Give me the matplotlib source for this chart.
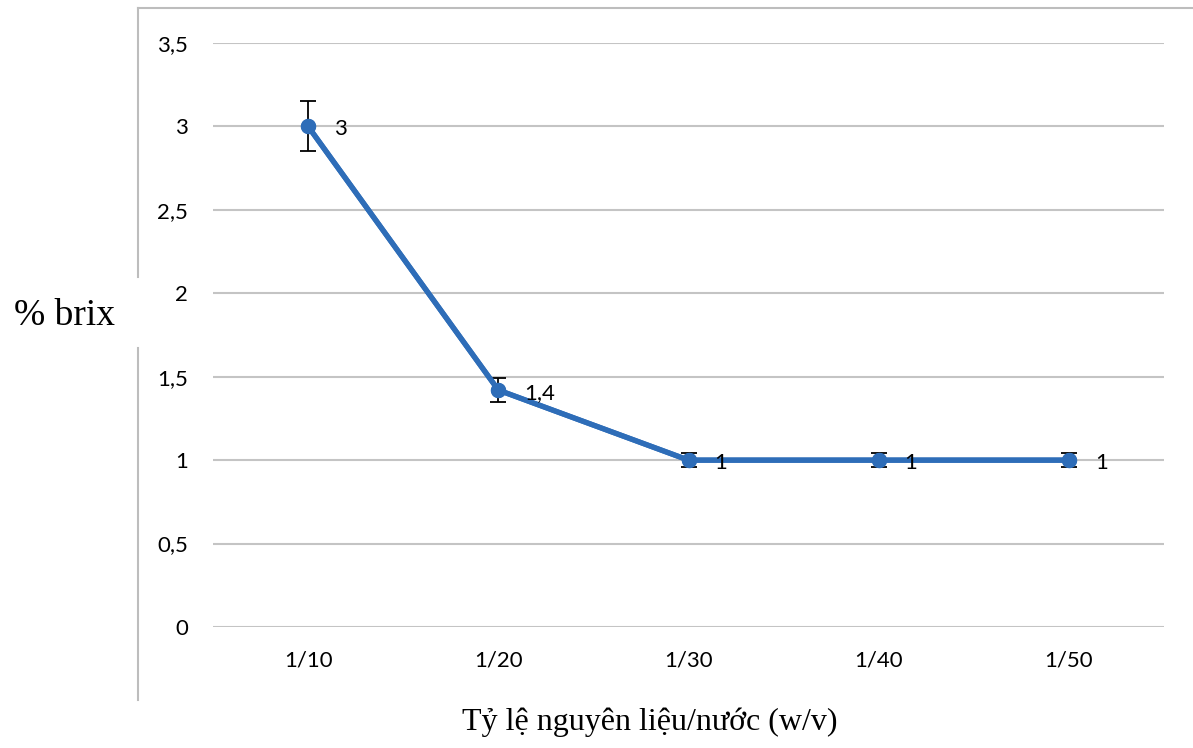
import matplotlib
matplotlib.use("Agg")
import matplotlib.pyplot as plt
from matplotlib.lines import Line2D

categories = ["1/10", "1/20", "1/30", "1/40", "1/50"]
brix = [3.0, 1.42, 1.0, 1.0, 1.0]
brix_err = [0.15, 0.07, 0.04, 0.04, 0.04]
point_labels = ["3", "1,4", "1", "1", "1"]
y_ticks = [0, 0.5, 1, 1.5, 2, 2.5, 3, 3.5]
y_tick_labels = ["0", "0,5", "1", "1,5", "2", "2,5", "3", "3,5"]

W, H = 1193, 748
fig = plt.figure(figsize=(W / 100, H / 100), dpi=100)
ax = fig.add_axes([213 / W, 1 - 627 / H, (1164 - 213) / W, (627 - 43) / H])

x = list(range(len(categories)))
blue = "#2E6DB8"
ax.errorbar(x, brix, yerr=brix_err, color=blue, lw=3.8, marker="o", ms=10,
            ecolor="black", elinewidth=1.3, capsize=6, capthick=1.3, zorder=3)
# redraw line on top of error bars
ax.plot(x, brix, color=blue, lw=3.8, marker="o", ms=10, zorder=4)

for xi, yi, lab in zip(x, brix, point_labels):
    ax.annotate(lab, (xi, yi), xytext=(26, -3), textcoords="offset pixels",
                ha="left", va="center", fontsize=16, family="Lato", color="black",
                zorder=5)

ax.set_xlim(-0.5, len(categories) - 0.5)
ax.set_ylim(0, 3.5)
ax.set_yticks(y_ticks)
ax.set_yticklabels(y_tick_labels, fontsize=16, family="Lato")
ax.set_xticks(x)
ax.set_xticklabels(categories, fontsize=16, family="Lato")
ax.tick_params(axis="y", length=0, pad=18)
ax.tick_params(axis="x", length=0, pad=17)
ax.grid(axis="y", color="#C4C4C4", lw=1.5)
ax.set_axisbelow(True)
for s in ax.spines.values():
    s.set_visible(False)

# outer chart frame (cropped)
fc = "#BDBDBD"
lx = 137.5 / W
fig.add_artist(Line2D([lx, lx], [1 - 8 / H, 1 - 277 / H], color=fc, lw=1.5))
fig.add_artist(Line2D([lx, lx], [1 - 348 / H, 1 - 700 / H], color=fc, lw=1.5))
fig.add_artist(Line2D([lx, 1.0], [1 - 8 / H, 1 - 8 / H], color=fc, lw=1.5))

fig.text(64 / W, 1 - 316 / H, "% brix", ha="center", va="center",
         fontsize=27, family="Liberation Serif")
fig.text(650 / W, 1 - 722 / H, "Tỷ lệ nguyên liệu/nước (w/v)", ha="center",
         va="center", fontsize=23, family="Liberation Serif")

fig.savefig("out.png", dpi=100)
